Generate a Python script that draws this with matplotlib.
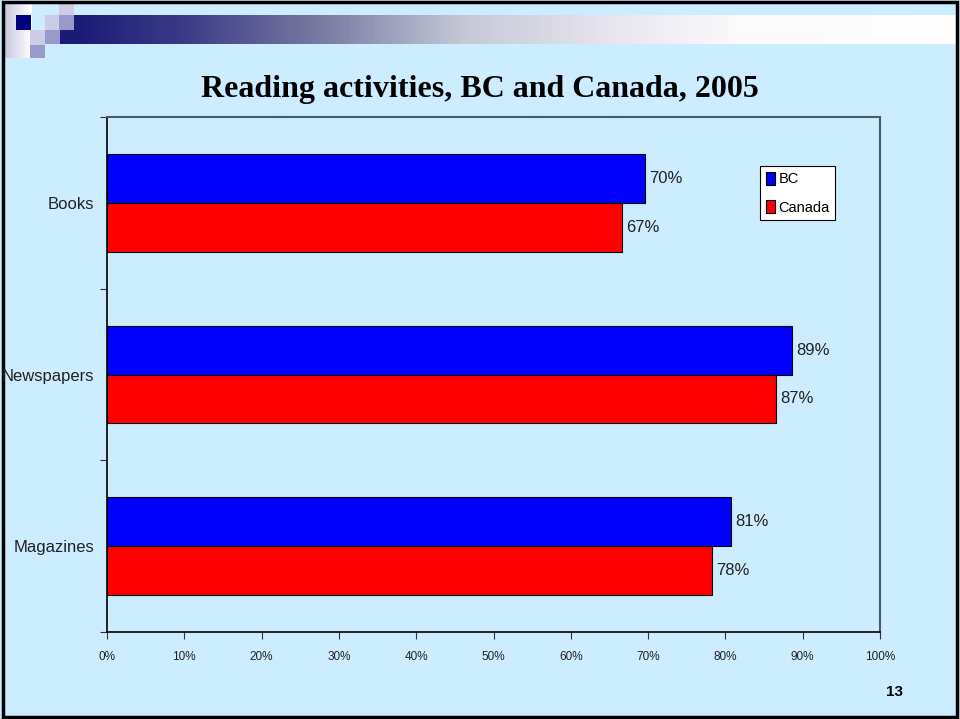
import matplotlib.pyplot as plt
import numpy as np
from matplotlib.patches import Rectangle
from matplotlib.colors import LinearSegmentedColormap

# data
categories = ["Books", "Newspapers", "Magazines"]
bc = [69.6, 88.6, 80.7]
canada = [66.6, 86.6, 78.3]
bc_labels = ["70%", "89%", "81%"]
canada_labels = ["67%", "87%", "78%"]
xticks = list(range(0, 101, 10))

bg = "#CCECFF"
sans = ["Liberation Sans", "DejaVu Sans"]

fig = plt.figure(figsize=(9.6, 7.19), dpi=100, facecolor=bg)

# slide decoration (pixel coordinates)
deco = fig.add_axes([0, 0, 1, 1], zorder=-1)
deco.set_xlim(0, 960)
deco.set_ylim(719, 0)
deco.axis("off")
deco.set_facecolor(bg)

bar_cmap = LinearSegmentedColormap.from_list(
    "bar", [(0, "#1B1B78"), (0.12, "#3A3A86"), (0.28, "#7B7BA3"),
            (0.44, "#C5C8D6"), (0.6, "#E6E4EE"), (0.75, "#FAFAFB"), (1, "#FFFFFF")])
deco.imshow(np.linspace(0, 1, 400)[None, :], cmap=bar_cmap, aspect="auto",
            extent=(74, 958, 44, 15), zorder=1)
side_cmap = LinearSegmentedColormap.from_list("side", ["#C8C8E2", "#FFFFFF"])
deco.imshow(np.linspace(0, 1, 50)[None, :], cmap=side_cmap, aspect="auto",
            extent=(5, 32, 58, 4), zorder=1)
squares = [
    (60, 30, 14, 14, "#1B1B78"),
    (16, 15, 15, 15, "#000080"),
    (59, 4, 15, 11, "#CCCCE6"),
    (45, 15, 14, 15, "#CCCCE6"),
    (30, 30, 15, 15, "#CCCCE6"),
    (59, 15, 15, 15, "#9999CC"),
    (45, 30, 15, 14, "#9999CC"),
    (30, 45, 15, 13, "#9999CC"),
]
for x, y, w, h, c in squares:
    deco.add_patch(Rectangle((x, y), w, h, facecolor=c, edgecolor="none", zorder=2))
deco.add_patch(Rectangle((3, 1.5), 954, 715, facecolor="none", edgecolor="black",
                         linewidth=2.5, zorder=3))

fig.text(0.5, 0.876, "Reading activities, BC and Canada, 2005", ha="center", va="center",
         fontsize=23, fontweight="bold", family=["Liberation Serif", "DejaVu Serif"])
fig.text(0.932, 0.037, "13", ha="center", va="center", fontsize=11,
         fontweight="bold", family=sans)

# chart
ax = fig.add_axes([107 / 960, 87 / 719, 773 / 960, 515 / 719])
ax.set_facecolor(bg)
y = np.arange(len(categories))
h = 0.285
ax.barh(y - h / 2, bc, height=h, color="#0000FF", edgecolor="black", linewidth=0.8, label="BC")
ax.barh(y + h / 2, canada, height=h, color="#FF0000", edgecolor="black", linewidth=0.8, label="Canada")

for i in range(len(categories)):
    ax.annotate(bc_labels[i], (bc[i], y[i] - h / 2), xytext=(3, 0), textcoords="offset points",
                va="center", ha="left", fontsize=12, family=sans, color="#222222")
    ax.annotate(canada_labels[i], (canada[i], y[i] + h / 2), xytext=(3, 0), textcoords="offset points",
                va="center", ha="left", fontsize=12, family=sans, color="#222222")

ax.set_xlim(0, 100)
ax.set_ylim(2.5, -0.5)
ax.set_xticks(xticks)
ax.set_xticklabels([f"{t}%" for t in xticks], fontsize=8.5, family=sans, color="#222222")
ax.set_yticks([-0.5, 0.5, 1.5, 2.5])
ax.set_yticklabels([])
ax.set_yticks(y, minor=True)
ax.set_yticklabels(categories, minor=True, fontsize=12, family=sans, color="#222222")
ax.tick_params(axis="y", which="minor", length=0, pad=9)
ax.tick_params(axis="y", which="major", length=5, width=0.8, color="#333333")
ax.tick_params(axis="x", length=5, width=0.8, pad=9, color="#333333")

for s in ["left", "bottom"]:
    ax.spines[s].set_color("black")
    ax.spines[s].set_linewidth(1.2)
for s in ["top", "right"]:
    ax.spines[s].set_color("#4A5A66")
    ax.spines[s].set_linewidth(1.5)

leg = ax.legend(loc="upper left", bbox_to_anchor=(0.845, 0.905), prop={"family": sans, "size": 10.5},
                frameon=True, fancybox=False, edgecolor="black", facecolor="white", framealpha=1,
                handlelength=0.6, handleheight=1.0, handletextpad=0.25, borderpad=0.4,
                labelspacing=0.95, borderaxespad=0)
leg.get_frame().set_linewidth(0.8)

fig.savefig("out.png", dpi=100, facecolor=bg)
